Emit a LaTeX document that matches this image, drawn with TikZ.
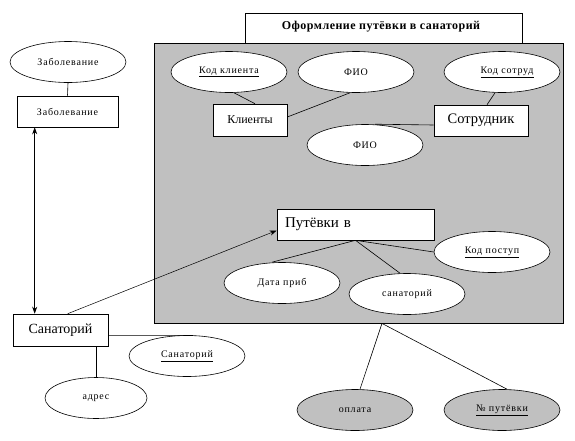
\documentclass[tikz,border=0pt]{standalone}
\usepackage{fontspec}
\setmainfont{Liberation Serif}
\newfontfamily\spaced[LetterSpace=8]{Liberation Serif}
\newfontfamily\spacedb[LetterSpace=4]{Liberation Serif}
\usetikzlibrary{shapes.geometric,arrows.meta}
\definecolor{bggray}{RGB}{192,192,192}
\tikzset{
  ent/.style={draw, fill=white, rectangle, inner sep=0pt, line width=0.6pt},
  attr/.style={draw, fill=white, ellipse, inner sep=0pt, minimum width=116pt, minimum height=41pt, font=\spaced\fontsize{10}{11}\selectfont, line width=0.6pt},
  gattr/.style={attr, fill=bggray},
  conn/.style={line width=0.6pt},
  titlefont/.style={font=\spacedb\fontsize{12}{14}\bfseries\selectfont},
}
\begin{document}
\begin{tikzpicture}[x=1pt,y=-1pt]
\useasboundingbox (0,0) rectangle (575,440);
% title and big gray box
\node[ent, minimum width=277pt, minimum height=30pt, titlefont] (title) at (383.5,28) {};
\node[draw, fill=bggray, rectangle, minimum width=409pt, minimum height=280pt, inner sep=0pt, line width=0.8pt] (big) at (358.5,183) {};
\node[titlefont] (titletext) at (381,27) {Оформление путёвки в санаторий};
% inside
\node[attr] (kk) at (229,72) {\underline{Код клиента}};
\node[attr] (fio1) at (356,72) {ФИО};
\node[attr] (ks) at (502,72) {\hspace*{10pt}\underline{Код сотруд}};
\node[ent, minimum width=74pt, minimum height=32pt, font=\fontsize{12}{13}\selectfont] (kl) at (250,120) {Клиенты};
\node[ent, minimum width=94pt, minimum height=31pt, font=\fontsize{14.5}{16}\selectfont] (sotr) at (481,120.5) {Сотрудник};
\node[attr] (fio2) at (365,145) {ФИО};
\node[ent, minimum width=157pt, minimum height=31pt, font=\fontsize{15}{17}\selectfont, text width=141pt, inner xsep=8pt, align=left] (put) at (355.5,224.5) {Путёвки в};
\node[attr] (kp) at (492,252) {\underline{Код поступ}};
\node[attr] (dp) at (282,283) {Дата приб};
\node[attr] (sn) at (407,294) {санаторий};
% outside
\node[attr] (zabE) at (68,62) {Заболевание};
\node[ent, minimum width=101pt, minimum height=31pt, font=\spaced\fontsize{10}{11}\selectfont] (zab) at (67.5,111.5) {Заболевание};
\node[ent, minimum width=95pt, minimum height=32pt, font=\fontsize{14}{16}\selectfont] (san) at (60.5,330) {Санаторий};
\node[attr] (sanE) at (187,356) {\underline{Санаторий}};
\node[attr, minimum width=102pt] (adr) at (96,398) {адрес};
\node[gattr] (opl) at (355,410) {оплата};
\node[gattr] (nom) at (502,410) {\underline{№ путёвки}};
% connectors
\draw[conn] ([xshift=5pt]kk.south) -- ([xshift=5pt]kl.north);
\draw[conn] ([yshift=3pt]kl.east) -- ([xshift=-6pt]fio1.south);
\draw[conn] ([xshift=-7pt]ks.south) -- ([xshift=6pt]sotr.north);
\draw[conn] ([yshift=-4.5pt]sotr.west) -- ([xshift=10pt]fio2.north);
\draw[conn] (put.south) -- ([xshift=-10pt]dp.north);
\draw[conn] (put.south) -- ([xshift=-7pt]sn.north);
\draw[conn] (put.south) -- (kp.west);
\draw[conn] (zabE.south) -- (zab.north);
\draw[conn, {Stealth[length=7pt,width=5pt]}-{Stealth[length=7pt,width=5pt]}] ([xshift=18pt]zab.south west) -- ([xshift=22pt]san.north west);
\draw[conn, line width=0.5pt, -{Stealth[length=7pt,width=5pt]}] ([xshift=55pt]san.north west) -- ([yshift=-6pt]put.west);
\coordinate (sanR) at ([yshift=-5pt]san.east);
\draw[conn] (sanR) -- (sanR -| sanE.north) -- ++(6,0);
\draw[conn] (adr.north |- san.south) -- (adr.north);
\coordinate (bb) at ([xshift=23.5pt]big.south);
\draw[conn] (bb) -- ([xshift=5pt]opl.north);
\draw[conn] (bb) -- ([xshift=5pt]nom.north);
\end{tikzpicture}
\end{document}
